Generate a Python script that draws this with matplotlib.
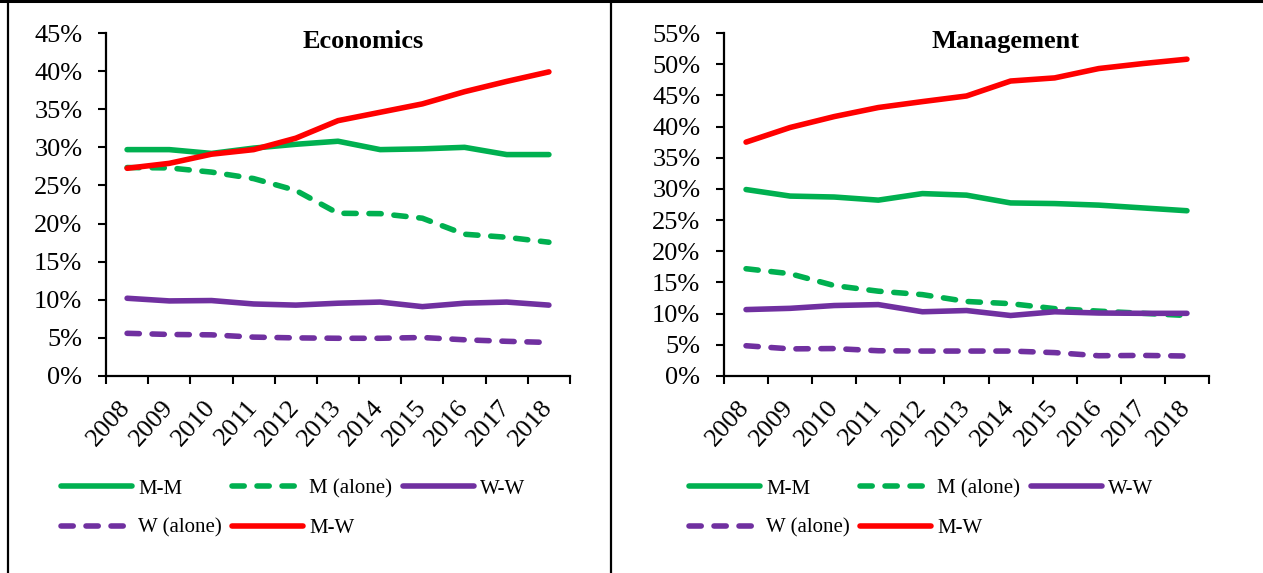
import matplotlib
matplotlib.use("Agg")
import matplotlib.pyplot as plt
from matplotlib.lines import Line2D
import numpy as np

plt.rcParams['font.family'] = ['Liberation Serif', 'DejaVu Serif']

years = ['2008', '2009', '2010', '2011', '2012', '2013', '2014', '2015', '2016', '2017', '2018']

# Economics (%)
eco_mm = [29.7, 29.7, 29.2, 29.9, 30.4, 30.8, 29.7, 29.8, 30.0, 29.05, 29.05]
eco_m_alone = [27.35, 27.3, 26.75, 25.9, 24.35, 21.35, 21.3, 20.7, 18.6, 18.2, 17.55]
eco_ww = [10.2, 9.85, 9.9, 9.45, 9.3, 9.55, 9.7, 9.1, 9.55, 9.7, 9.3]
eco_w_alone = [5.6, 5.45, 5.4, 5.1, 5.0, 4.95, 4.95, 5.05, 4.75, 4.55, 4.4]
eco_mw = [27.25, 27.9, 29.1, 29.7, 31.2, 33.5, 34.6, 35.7, 37.3, 38.65, 39.9]

# Management (%)
man_mm = [29.9, 28.85, 28.7, 28.2, 29.25, 29.0, 27.75, 27.65, 27.4, 26.95, 26.5]
man_m_alone = [17.2, 16.4, 14.5, 13.6, 13.05, 11.95, 11.6, 10.8, 10.4, 10.05, 9.7]
man_ww = [10.65, 10.85, 11.3, 11.45, 10.3, 10.5, 9.7, 10.3, 10.1, 10.05, 10.05]
man_w_alone = [4.85, 4.35, 4.4, 4.05, 4.0, 4.0, 4.0, 3.75, 3.25, 3.3, 3.2]
man_mw = [37.5, 39.85, 41.6, 43.05, 44.0, 44.9, 47.3, 47.8, 49.3, 50.1, 50.8]

labels = ['M-M', 'M (alone)', 'W-W', 'W (alone)', 'M-W']
GREEN = '#00B050'
PURPLE = '#7030A0'
RED = '#FF0000'
DASH = (0, (2.2, 2.3))
styles = [
    dict(color=GREEN, ls='-'),
    dict(color=GREEN, ls=DASH),
    dict(color=PURPLE, ls='-'),
    dict(color=PURPLE, ls=DASH),
    dict(color=RED, ls='-'),
]

W, H = 1263, 573
fig = plt.figure(figsize=(W / 100, H / 100), dpi=100)


def px_axes(x0, x1, ytop, ybot):
    return fig.add_axes([x0 / W, 1 - ybot / H, (x1 - x0) / W, (ybot - ytop) / H])


panels = [
    dict(rect=(106, 570, 33, 376), title='Economics', tx=0.554, ymax=45,
         series=[eco_mm, eco_m_alone, eco_ww, eco_w_alone, eco_mw],
         leg_x=61),
    dict(rect=(724, 1209, 33, 376), title='Management', tx=0.581, ymax=55,
         series=[man_mm, man_m_alone, man_ww, man_w_alone, man_mw],
         leg_x=689),
]

x = np.arange(len(years))
for p in panels:
    ax = px_axes(*p['rect'])
    handles = []
    for s, lab, st in zip(p['series'], labels, styles):
        h, = ax.plot(x, s, color=st['color'], linestyle=st['ls'], lw=4,
                     dash_capstyle='round', solid_capstyle='round', label=lab)
        handles.append(h)
    ax.set_xlim(-0.5, len(years) - 0.5)
    ax.set_ylim(0, p['ymax'])
    yt = np.arange(0, p['ymax'] + 0.1, 5)
    ax.set_yticks(yt)
    ax.set_yticklabels([f'{int(v)}%' for v in yt])
    ax.set_xticks(x)
    ax.set_xticklabels(years, rotation=48, ha='right', va='center', rotation_mode='anchor')
    ax.set_xticks(np.arange(-0.5, len(years)), minor=True)
    ax.tick_params(axis='x', which='major', length=0, pad=20, labelsize=19)
    ax.tick_params(axis='x', which='minor', length=6, width=1.5, direction='out')
    ax.tick_params(axis='y', length=6, width=1.5, direction='out', pad=11, labelsize=19)
    for side in ['top', 'right']:
        ax.spines[side].set_visible(False)
    for side in ['left', 'bottom']:
        ax.spines[side].set_linewidth(1.6)
    ax.text(p['tx'], 0.956, p['title'], transform=ax.transAxes, ha='center',
            va='baseline', fontsize=19, fontweight='bold')
    # column-major fill so rows read: M-M, M (alone), W-W / W (alone), M-W
    order = [0, 3, 1, 4, 2]
    fig.legend(handles=[handles[i] for i in order], ncol=3, loc='upper left',
               bbox_to_anchor=(p['leg_x'] / W, 1 - 479 / H),
               frameon=False, fontsize=15, handlelength=3.4, handletextpad=0.3,
               columnspacing=0.5, labelspacing=0.95, borderpad=0, borderaxespad=0)

# panel borders
fig.add_artist(Line2D([8 / W, 8 / W], [0, 1], color='black', lw=1.6, transform=fig.transFigure))
fig.add_artist(Line2D([611 / W, 611 / W], [0, 1], color='black', lw=1.6, transform=fig.transFigure))
fig.add_artist(Line2D([0, 1], [1 - 1 / H, 1 - 1 / H], color='black', lw=2.2, transform=fig.transFigure))

fig.savefig('out.png', dpi=100)
